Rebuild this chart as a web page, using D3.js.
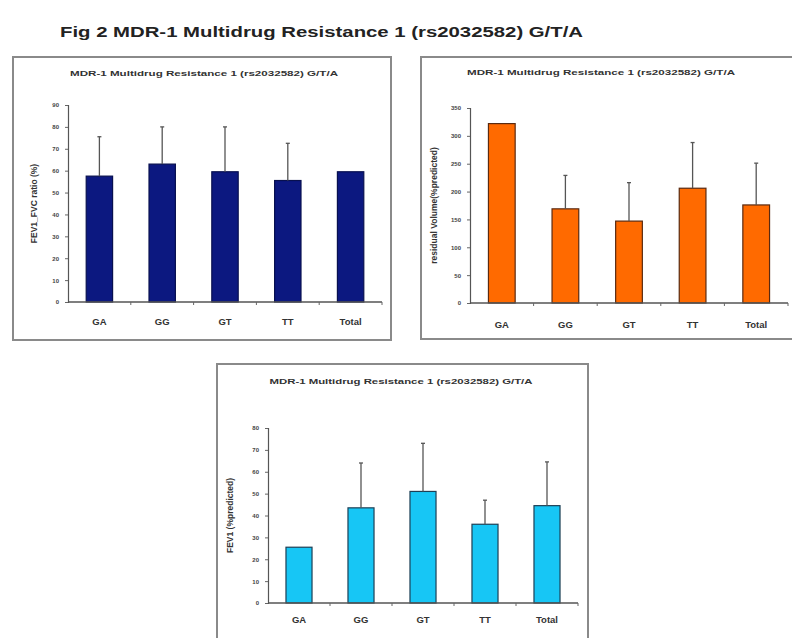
<!DOCTYPE html>
<html>
<head>
<meta charset="utf-8">
<script src="https://cdn.jsdelivr.net/npm/d3@7"></script>
<style>
  html, body { margin: 0; padding: 0; background: #fff; }
  svg { display: block; font-family: "Liberation Sans", Arial, sans-serif; }
</style>
</head>
<body>
<svg id="fig" width="792" height="638"></svg>
<script>
// Genotype groups shared by all three panels
const categories = ["GA", "GG", "GT", "TT", "Total"];

// FEV1/FVC ratio (%) — mean and SD per genotype
const fevFvcMean = [57.5, 63, 59.5, 55.5, 59.5];
const fevFvcSd   = [18, 17, 20.5, 17, 0];
const fevFvcTicks = [0, 10, 20, 30, 40, 50, 60, 70, 80, 90];

// Residual volume (% predicted)
const rvMean = [322, 169, 147, 206, 176];
const rvSd   = [0, 60, 69, 82, 75];
const rvTicks = [0, 50, 100, 150, 200, 250, 300, 350];

// FEV1 (% predicted)
const fev1Mean = [25.5, 43.5, 51, 36, 44.5];
const fev1Sd   = [0, 20.5, 22, 11, 20];
const fev1Ticks = [0, 10, 20, 30, 40, 50, 60, 70, 80];

const figTitle = "Fig 2 MDR-1 Multidrug Resistance 1 (rs2032582) G/T/A";
const panelTitle = "MDR-1 Multidrug Resistance 1 (rs2032582) G/T/A";

const svg = d3.select("#fig");

svg.append("text")
  .attr("x", 60).attr("y", 37)
  .attr("font-size", 15).attr("font-weight", "bold")
  .attr("fill", "#222")
  .attr("textLength", 523).attr("lengthAdjust", "spacingAndGlyphs")
  .text(figTitle);

function panel(cfg) {
  const g = svg.append("g");
  // outer frame
  g.append("rect")
    .attr("x", cfg.frame[0]).attr("y", cfg.frame[1])
    .attr("width", cfg.frame[2] - cfg.frame[0])
    .attr("height", cfg.frame[3] - cfg.frame[1])
    .attr("fill", "#fff").attr("stroke", "#8a8a8a").attr("stroke-width", 2);

  g.append("text")
    .attr("x", cfg.titleX).attr("y", cfg.titleY)
    .attr("text-anchor", "middle")
    .attr("font-size", 6.5).attr("font-weight", "bold").attr("fill", "#333")
    .attr("textLength", cfg.titleW).attr("lengthAdjust", "spacingAndGlyphs")
    .text(panelTitle);

  const x = d3.scaleBand().domain(categories)
    .range([cfg.x0, cfg.x1]).paddingInner(0.58).paddingOuter(0.29);
  const y = d3.scaleLinear().domain(cfg.domain).range([cfg.y0, cfg.y1]);

  // y axis
  const ya = g.append("g").attr("transform", `translate(${cfg.x0},0)`)
    .call(d3.axisLeft(y).tickValues(cfg.ticks).tickSize(3).tickPadding(6));
  ya.select(".domain").attr("stroke", "#555").attr("stroke-width", 1.2);
  ya.selectAll(".tick line").attr("stroke", "#666");
  ya.selectAll(".tick text").attr("font-size", 6).attr("fill", "#444")
    .attr("font-weight", "bold");

  // y-axis title
  g.append("text")
    .attr("transform", `translate(${cfg.labelX},${(cfg.y0 + cfg.y1) / 2}) rotate(-90)`)
    .attr("text-anchor", "middle")
    .attr("font-size", 8.5).attr("font-weight", "bold").attr("fill", "#333")
    .text(cfg.yLabel);

  // bars
  g.selectAll("rect.bar").data(cfg.mean).join("rect")
    .attr("class", "bar")
    .attr("x", (d, i) => x(categories[i]))
    .attr("y", d => y(d))
    .attr("width", x.bandwidth())
    .attr("height", d => y(0) - y(d))
    .attr("fill", cfg.color).attr("stroke", cfg.edge).attr("stroke-width", 1.2);

  // upper error bars
  const eb = g.selectAll("g.err")
    .data(cfg.mean.map((m, i) => ({ m, s: cfg.sd[i], c: categories[i] })).filter(d => d.s > 0))
    .join("g").attr("class", "err");
  eb.append("line")
    .attr("x1", d => x(d.c) + x.bandwidth() / 2).attr("x2", d => x(d.c) + x.bandwidth() / 2)
    .attr("y1", d => y(d.m)).attr("y2", d => y(d.m + d.s))
    .attr("stroke", "#555").attr("stroke-width", 1.3);
  eb.append("line")
    .attr("x1", d => x(d.c) + x.bandwidth() / 2 - 2).attr("x2", d => x(d.c) + x.bandwidth() / 2 + 2)
    .attr("y1", d => y(d.m + d.s)).attr("y2", d => y(d.m + d.s))
    .attr("stroke", "#555").attr("stroke-width", 1.3);

  // x axis with tick marks between groups
  const xa = g.append("g").attr("transform", `translate(0,${cfg.y0})`);
  xa.append("line").attr("x1", cfg.x0).attr("x2", cfg.x1)
    .attr("stroke", "#555").attr("stroke-width", 1.5);
  const step = (cfg.x1 - cfg.x0) / categories.length;
  xa.selectAll("line.sep").data(d3.range(1, categories.length + 1)).join("line")
    .attr("class", "sep")
    .attr("x1", i => cfg.x0 + i * step).attr("x2", i => cfg.x0 + i * step)
    .attr("y1", 0).attr("y2", 3).attr("stroke", "#666");
  xa.selectAll("text").data(categories).join("text")
    .attr("x", d => x(d) + x.bandwidth() / 2)
    .attr("y", cfg.labelY - cfg.y0)
    .attr("text-anchor", "middle").attr("font-size", 9.5).attr("font-weight", "bold")
    .attr("fill", "#333")
    .text(d => d);
}

panel({
  frame: [13, 57, 391, 340], titleX: 204, titleY: 76, titleW: 268,
  x0: 68, x1: 382, y0: 302, y1: 105, domain: [0, 90], ticks: fevFvcTicks,
  labelX: 37, labelY: 325, yLabel: "FEV1_FVC ratio (%)",
  mean: fevFvcMean, sd: fevFvcSd, color: "#0c1880", edge: "#08104f"
});

panel({
  frame: [421, 57, 805, 339], titleX: 601, titleY: 75, titleW: 268,
  x0: 470, x1: 788, y0: 303, y1: 108, domain: [0, 350], ticks: rvTicks,
  labelX: 437, labelY: 328, yLabel: "residual Volume(%predicted)",
  mean: rvMean, sd: rvSd, color: "#ff6a00", edge: "#5a2a10"
});

panel({
  frame: [217, 364, 588, 650], titleX: 401, titleY: 384, titleW: 263,
  x0: 268, x1: 578, y0: 603, y1: 428, domain: [0, 80], ticks: fev1Ticks,
  labelX: 233, labelY: 623, yLabel: "FEV1 (%predicted)",
  mean: fev1Mean, sd: fev1Sd, color: "#17c6f5", edge: "#1d3f55"
});
</script>
</body>
</html>
